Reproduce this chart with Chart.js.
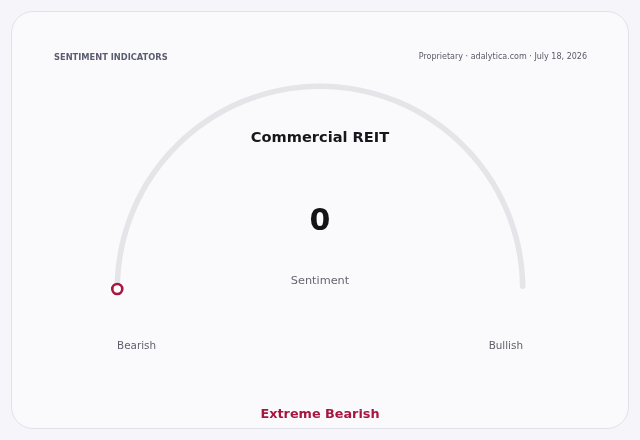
<!DOCTYPE html>
<html>
<head>
<meta charset="utf-8">
<script src="https://cdn.jsdelivr.net/npm/chart.js@4.4.1/dist/chart.umd.min.js"></script>
<style>
  html, body { margin: 0; padding: 0; background: #f5f5fa; font-family: "DejaVu Sans", sans-serif; }
  #wrap { position: relative; width: 640px; height: 440px; overflow: hidden; }
  #card { position: absolute; left: 11px; top: 11px; width: 616px; height: 416px; border: 1px solid #e1e1ea; border-radius: 22px; background: #fafafd; }
  canvas { position: absolute; left: 0; top: 0; }
  .t { position: absolute; white-space: nowrap; }
  #head { left: 54px; top: 52px; font-size: 8.3px; font-weight: bold; color: #5c5c70; }
  #src { right: 53px; top: 52px; font-size: 8px; color: #5a5a66; }
  #name { left: 0; width: 640px; text-align: center; top: 128px; font-size: 14.6px; font-weight: bold; color: #16161c; }
  #val { left: 0; width: 640px; text-align: center; top: 202px; font-size: 30px; font-weight: bold; color: #141418; }
  #lbl { left: 0; width: 640px; text-align: center; top: 274px; font-size: 11.3px; color: #66666f; }
  #lo { left: 117px; top: 339px; font-size: 10.4px; color: #5f5f6a; }
  #hi { right: 117px; top: 339px; font-size: 10.4px; color: #5f5f6a; }
  #rating { left: 0; width: 640px; text-align: center; top: 406px; font-size: 12.8px; font-weight: bold; color: #a8153f; }
</style>
</head>
<body>
<div id="wrap">
  <div id="card"></div>
  <canvas id="gauge" width="640" height="440"></canvas>
  <div class="t" id="head"></div>
  <div class="t" id="src"></div>
  <div class="t" id="name"></div>
  <div class="t" id="val"></div>
  <div class="t" id="lbl"></div>
  <div class="t" id="lo"></div>
  <div class="t" id="hi"></div>
  <div class="t" id="rating"></div>
</div>
<script>
const indicator = ["Commercial REIT"];
const sentiment = [0];
const scaleRange = [0, 100];
const endLabels = ["Bearish", "Bullish"];
const rating = ["Extreme Bearish"];
const headerText = ["SENTIMENT INDICATORS", "Proprietary · adalytica.com · July 18, 2026"];

document.querySelector("#head").textContent = headerText[0];
document.querySelector("#src").textContent = headerText[1];
document.querySelector("#name").textContent = indicator[0];
document.querySelector("#val").textContent = sentiment[0];
document.querySelector("#lbl").textContent = "Sentiment";
document.querySelector("#lo").textContent = endLabels[0];
document.querySelector("#hi").textContent = endLabels[1];
document.querySelector("#rating").textContent = rating[0];

// marker sits where the value segment ends
const markerPlugin = {
  id: "marker",
  afterDatasetsDraw(chart) {
    const arc = chart.getDatasetMeta(0).data[0];
    if (!arc) return;
    const r = (arc.outerRadius + arc.innerRadius) / 2;
    const x = arc.x + r * Math.cos(arc.endAngle);
    const y = arc.y + r * Math.sin(arc.endAngle);
    const ctx = chart.ctx;
    ctx.save();
    ctx.beginPath();
    ctx.arc(x, y, 5, 0, Math.PI * 2);
    ctx.fillStyle = "#ffffff";
    ctx.fill();
    ctx.lineWidth = 2.6;
    ctx.strokeStyle = "#a8153f";
    ctx.stroke();
    ctx.restore();
  },
};

const graphic = document.querySelector("#gauge");
new Chart(graphic, {
  type: "doughnut",
  data: {
    labels: ["Sentiment", "Remaining"],
    datasets: [
      {
        data: [sentiment[0] - scaleRange[0], scaleRange[1] - sentiment[0]],
        backgroundColor: ["#a8153f", "#e5e5e9"],
        borderWidth: 0,
        borderRadius: 3,
      },
    ],
  },
  options: {
    responsive: false,
    animation: false,
    events: [],
    rotation: -90,
    circumference: 180,
    cutout: "97.3%",
    layout: {
      padding: { left: 114.5, right: 114.5, top: 83.5, bottom: 151 },
    },
    plugins: {
      legend: { display: false },
      tooltip: { enabled: false },
    },
  },
  plugins: [markerPlugin],
});
</script>
</body>
</html>
